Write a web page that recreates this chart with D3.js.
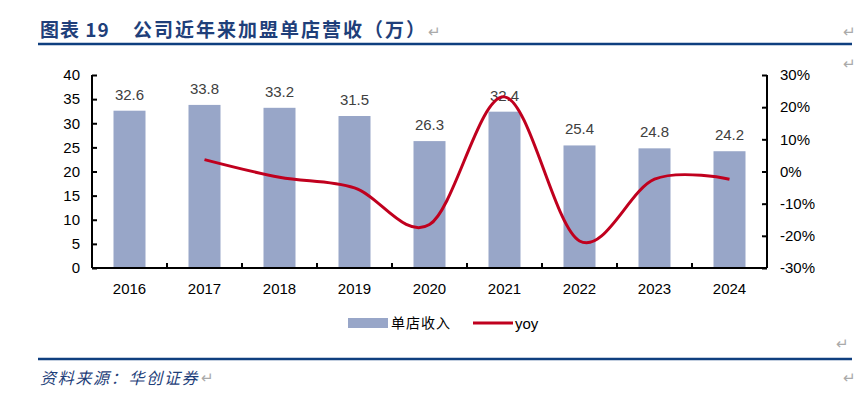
<!DOCTYPE html>
<html lang="zh">
<head>
<meta charset="UTF-8">
<title>公司近年来加盟单店营收</title>
<script src="https://d3js.org/d3.v7.min.js"></script>
<style>
  body { margin: 0; background: #fff; }
  text { font-family: "Liberation Sans", Arial, sans-serif; }
  .cjk { font-family: "Noto Sans CJK SC", sans-serif; }
</style>
</head>
<body>
<div id="chart"></div>
<script>
    const years = ["2016", "2017", "2018", "2019", "2020", "2021", "2022", "2023", "2024"];
    const revenue = [32.6, 33.8, 33.2, 31.5, 26.3, 32.4, 25.4, 24.8, 24.2];
    const yoy = [null, 3.7, -1.8, -5.1, -16.5, 23.2, -21.6, -2.4, -2.4];
    const leftTicks = [0, 5, 10, 15, 20, 25, 30, 35, 40];
    const rightTicks = [-30, -20, -10, 0, 10, 20, 30];

    const width = 861, height = 399;
    const plotLeft = 92, plotRight = 767, plotTop = 75, plotBottom = 268;

    const svg = d3.select("#chart").append("svg")
        .attr("width", width)
        .attr("height", height);

    // title and rules
    svg.append("text").attr("class", "cjk")
        .attr("x", 40).attr("y", 37)
        .attr("fill", "#1f3f7a").attr("font-size", 19).attr("font-weight", "bold")
        .attr("letter-spacing", 1)
        .text("图表 19");
    svg.append("text").attr("class", "cjk")
        .attr("x", 133).attr("y", 37)
        .attr("fill", "#1f3f7a").attr("font-size", 19).attr("font-weight", "bold")
        .attr("letter-spacing", 2)
        .text("公司近年来加盟单店营收（万）");
    svg.append("text").attr("x", 428).attr("y", 37).attr("fill", "#aaa").attr("font-size", 15).text("↵");
    svg.append("text").attr("x", 843).attr("y", 37).attr("fill", "#aaa").attr("font-size", 15).text("↵");
    svg.append("text").attr("x", 843).attr("y", 69).attr("fill", "#aaa").attr("font-size", 15).text("↵");
    svg.append("text").attr("x", 836).attr("y", 349).attr("fill", "#aaa").attr("font-size", 15).text("↵");
    svg.append("text").attr("x", 843).attr("y", 383).attr("fill", "#aaa").attr("font-size", 15).text("↵");
    svg.append("line").attr("x1", 38).attr("x2", 852).attr("y1", 44).attr("y2", 44)
        .attr("stroke", "#0f3f7f").attr("stroke-width", 2.5);
    svg.append("line").attr("x1", 38).attr("x2", 852).attr("y1", 359).attr("y2", 359)
        .attr("stroke", "#0f3f7f").attr("stroke-width", 2.5);
    svg.append("text").attr("class", "cjk")
        .attr("x", 40).attr("y", 384)
        .attr("fill", "#1f3f7a").attr("font-size", 16).attr("font-style", "italic")
        .attr("letter-spacing", 1.7)
        .text("资料来源：华创证券");
    svg.append("text").attr("x", 201).attr("y", 383).attr("fill", "#aaa").attr("font-size", 15).text("↵");

    const x = d3.scaleBand().domain(years).range([plotLeft, plotRight]);
    const yL = d3.scaleLinear().domain([0, 40]).range([plotBottom, plotTop]);
    const yR = d3.scaleLinear().domain([-30, 30]).range([plotBottom, plotTop]);

    // bars
    svg.selectAll("rect.bar")
        .data(revenue)
        .enter()
        .append("rect")
        .attr("class", "bar")
        .attr("x", (d, i) => x(years[i]) + x.bandwidth() / 2 - 16)
        .attr("y", d => yL(d))
        .attr("width", 32)
        .attr("height", d => plotBottom - yL(d))
        .attr("fill", "#98a6c8");

    svg.selectAll("text.val")
        .data(revenue)
        .enter()
        .append("text")
        .attr("class", "val")
        .attr("x", (d, i) => x(years[i]) + x.bandwidth() / 2)
        .attr("y", d => yL(d) - 11)
        .attr("text-anchor", "middle")
        .attr("font-size", 15)
        .attr("fill", "#404040")
        .text(d => d.toFixed(1));

    // axes
    const axisL = svg.append("g").attr("transform", `translate(${plotLeft},0)`)
        .call(d3.axisLeft(yL).tickValues(leftTicks).tickSize(-5).tickPadding(12));
    const axisR = svg.append("g").attr("transform", `translate(${plotRight},0)`)
        .call(d3.axisRight(yR).tickValues(rightTicks).tickSize(-5).tickPadding(13)
            .tickFormat(d => d + "%"));
    const axisB = svg.append("g").attr("transform", `translate(0,${plotBottom})`)
        .call(d3.axisBottom(x).tickSize(0).tickPadding(15));
    axisB.selectAll(".tick")
        .append("line")
        .attr("class", "sep")
        .attr("x1", x.bandwidth() / 2).attr("x2", x.bandwidth() / 2)
        .attr("y1", 0).attr("y2", -5);
    [axisL, axisR, axisB].forEach(g => {
        g.select(".domain").attr("stroke", "#000").attr("stroke-width", 2);
        g.selectAll(".tick line").attr("stroke", "#000").attr("stroke-width", 2);
        g.selectAll("text").attr("font-size", 15).attr("fill", "#000")
            .attr("font-family", "Liberation Sans, Arial, sans-serif");
    });
    axisL.select(".domain").attr("d", `M0,${plotTop}V${plotBottom}`);
    axisR.select(".domain").attr("d", `M0,${plotTop}V${plotBottom}`);
    axisB.select(".domain").attr("d", `M${plotLeft},0H${plotRight}`);

    // yoy line
    const pts = years.map((y, i) => [x(y) + x.bandwidth() / 2, yoy[i]]).filter(p => p[1] !== null);
    svg.append("path")
        .datum(pts)
        .attr("fill", "none")
        .attr("stroke", "#c0001e")
        .attr("stroke-width", 3)
        .attr("d", d3.line().x(d => d[0]).y(d => yR(d[1])).curve(d3.curveCardinal.tension(0)));

    // legend
    const lg = svg.append("g");
    lg.append("rect").attr("x", 348).attr("y", 318).attr("width", 40).attr("height", 10).attr("fill", "#98a6c8");
    lg.append("text").attr("class", "cjk").attr("x", 391).attr("y", 328).attr("font-size", 14)
        .attr("letter-spacing", 1).attr("fill", "#000").text("单店收入");
    lg.append("line").attr("x1", 473).attr("x2", 513).attr("y1", 323).attr("y2", 323)
        .attr("stroke", "#c0001e").attr("stroke-width", 3);
    lg.append("text").attr("x", 515).attr("y", 329).attr("font-size", 15).attr("fill", "#000").text("yoy");
</script>
</body>
</html>
